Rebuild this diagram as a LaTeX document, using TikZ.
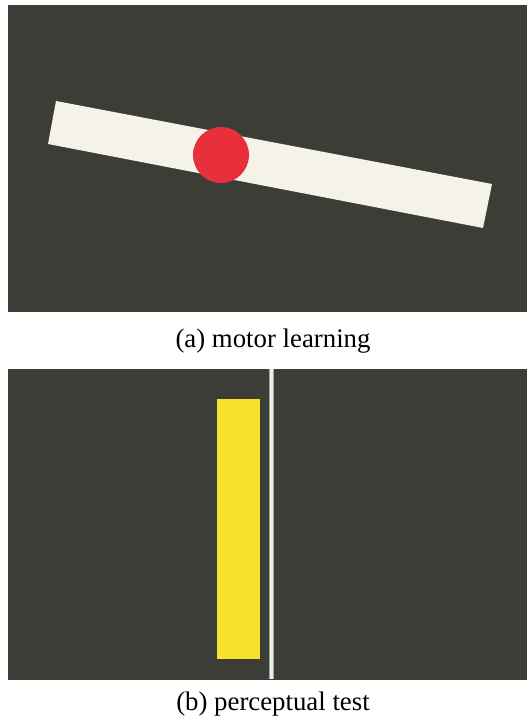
\documentclass[tikz,border=0pt]{standalone}
\usepackage{fontspec}
\setmainfont{Liberation Serif}
\definecolor{panelbg}{HTML}{3D3D37}
\definecolor{barcream}{HTML}{F5F3E8}
\definecolor{ballred}{HTML}{E8303D}
\definecolor{stimyellow}{HTML}{F7E22B}
\definecolor{lineWhite}{HTML}{EDEDED}
\tikzset{caption/.style={font=\fontsize{26.8}{30}\selectfont, anchor=base, inner sep=0pt}}
\begin{document}
\begin{tikzpicture}[x=1pt,y=-1pt]
\useasboundingbox[fill=white] (0,0) rectangle (528,722);
% panel (a)
\fill[panelbg] (8,5) rectangle (527,312);
\fill[barcream] (56,101) -- (492,184) -- (483,228) -- (48,144) -- cycle;
\fill[ballred] (221,155) circle[radius=28];
\node[caption] (capa) at (273,347) {(a) motor learning};
% panel (b)
\fill[panelbg] (8,369) rectangle (527,679.5);
\fill[stimyellow] (217,399) rectangle (260,659);
\fill[gray!70] (268.5,369) rectangle (273.5,679);
\fill[lineWhite] (269.5,369) rectangle (272.5,679);
\node[caption] (capb) at (273,710) {(b) perceptual test};
\end{tikzpicture}
\end{document}
